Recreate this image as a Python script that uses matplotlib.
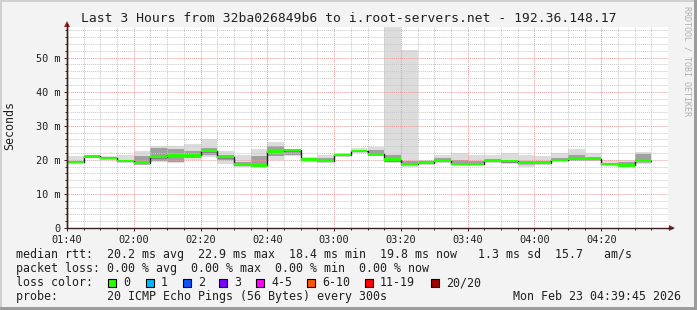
import numpy as np
import pandas as pd
import matplotlib
matplotlib.use("Agg")
import matplotlib.pyplot as plt
import matplotlib.dates as mdates
from matplotlib.patches import Rectangle, Polygon
from matplotlib.lines import Line2D

W, H = 697, 310
MONO = "DejaVu Sans Mono"

# one value per 5 minute step, 01:40 .. 04:35 (ms)
times = pd.date_range("2026-02-23 01:40", periods=35, freq="5min")
median = [19.3, 21.0, 20.6, 19.6, 19.0, 20.9, 21.3, 21.3, 22.6, 20.9,
          18.6, 18.4, 22.5, 22.9, 20.1, 19.6, 21.5, 22.6, 21.6, 20.1,
          18.7, 19.1, 19.8, 18.7, 18.7, 19.6, 19.6, 19.0, 19.0, 19.9,
          20.4, 20.3, 18.7, 18.4, 19.8]
ping_min = [19.1, 20.9, 20.4, 19.3, 18.6, 19.4, 19.0, 20.1, 20.7, 18.8,
            18.4, 18.3, 20.0, 21.1, 19.9, 19.4, 21.3, 22.4, 21.5, 19.0,
            18.0, 18.9, 19.6, 18.6, 18.6, 19.6, 18.9, 18.0, 18.9, 19.6,
            20.2, 20.1, 18.6, 18.2, 18.9]
ping_max = [21.0, 21.3, 21.0, 21.3, 22.7, 24.2, 24.0, 24.8, 26.0, 22.5,
            21.3, 23.3, 25.2, 23.1, 20.7, 21.3, 21.9, 23.4, 23.8, 65.0,
            52.3, 20.1, 21.5, 22.1, 21.3, 21.5, 21.9, 21.5, 21.1, 21.9,
            23.1, 22.1, 20.0, 20.1, 22.3]
# darker inner part of the smoke
core_lo = [19.2, 20.9, 20.5, 19.4, 19.0, 19.8, 19.5, 20.6, 21.5, 20.0,
           18.6, 18.6, 21.0, 21.5, 20.0, 19.8, 21.4, 22.6, 21.6, 19.3,
           18.6, 19.2, 19.8, 18.8, 18.8, 19.6, 19.2, 18.8, 19.0, 19.9,
           20.4, 20.3, 18.7, 18.4, 19.3]
core_hi = [19.8, 21.2, 20.9, 19.9, 21.0, 23.5, 23.2, 22.5, 23.5, 21.5,
           19.5, 21.0, 24.0, 22.8, 20.5, 20.5, 21.8, 23.0, 22.8, 21.5,
           19.6, 19.8, 20.5, 20.0, 19.8, 20.2, 20.0, 19.6, 19.6, 20.5,
           21.5, 20.8, 19.2, 19.4, 21.8]

loss_labels = ["0", "1", "2", "3", "4-5", "6-10", "11-19", "20/20"]
loss_colors = ["#26ff00", "#00b8ff", "#0059ff", "#7e00ff",
               "#ff00ff", "#ff5500", "#ff0000", "#a10000"]

title = "Last 3 Hours from 32ba026849b6 to i.root-servers.net - 192.36.148.17"
line_rtt = ("median rtt:  20.2 ms avg  22.9 ms max  18.4 ms min  "
            "19.8 ms now   1.3 ms sd  15.7   am/s")
line_loss = "packet loss: 0.00 % avg  0.00 % max  0.00 % min  0.00 % now"
line_probe = "probe:       20 ICMP Echo Pings (56 Bytes) every 300s"
stamp = "Mon Feb 23 04:39:45 2026"

fig = plt.figure(figsize=(W / 100, H / 100), dpi=100, facecolor="#f3f3f3")
# plot area in pixels: x 67..668, y 27..228
ax = fig.add_axes([67 / W, 1 - 228 / H, 601 / W, 201 / H])
ax.set_facecolor("white")

step = pd.Timedelta(minutes=5)
width = step / pd.Timedelta(days=1)
x = mdates.date2num(times)
med = np.array(median)

# smoke
ax.bar(x, np.array(ping_max) - np.array(ping_min), bottom=ping_min, width=width,
       align="edge", color="#dcdcdc", linewidth=0, zorder=1)
ax.bar(x, np.array(core_hi) - np.array(core_lo), bottom=core_lo, width=width,
       align="edge", color="#a0a0a0", linewidth=0, zorder=1.1)

# median step line (black) with loss-coloured bars
x_ext = np.append(x, x[-1] + width)
m_ext = np.append(med, med[-1])
ax.step(x_ext, m_ext, where="post", color="#202020", lw=1.0, zorder=3)
ax.bar(x, 0.7, bottom=med - 0.35, width=width, align="edge",
       color=loss_colors[0], linewidth=0, zorder=3.2)

t0 = pd.Timestamp("2026-02-23 01:40")
t1 = t0 + pd.Timedelta(hours=3)
ax.set_xlim(mdates.date2num(t0), mdates.date2num(t1))
ax.set_ylim(0, 59)

major_t = pd.date_range(t0, t1 - pd.Timedelta(minutes=1), freq="20min")
minor_t = pd.date_range(t0, t1 - pd.Timedelta(minutes=1), freq="5min")
ax.set_xticks(mdates.date2num(major_t))
ax.set_xticks(mdates.date2num(minor_t), minor=True)
ax.set_xticklabels([t.strftime("%H:%M") for t in major_t])
ax.set_yticks(np.arange(0, 51, 10))
ax.set_yticks(np.arange(0, 59, 2), minor=True)
ax.set_yticklabels(["0" if v == 0 else f"{v} m" for v in range(0, 51, 10)])

ax.set_axisbelow(False)
ax.grid(which="minor", color="#c8c8c8", linestyle=(0, (1, 1)), lw=0.7)
ax.grid(which="major", color="#e89a9a", linestyle=(0, (1, 1)), lw=0.7)

for s in ["top", "right"]:
    ax.spines[s].set_visible(False)
for s in ["left", "bottom"]:
    ax.spines[s].set_color("#3a2020")
    ax.spines[s].set_linewidth(1.0)
    ax.spines[s].set_zorder(4)

ax.tick_params(which="major", length=2.2, width=0.7, color="#3a2020",
               labelsize=7.4, pad=2.5)
ax.tick_params(which="minor", length=1.4, width=0.7, color="#3a2020")
for lab in ax.get_xticklabels() + ax.get_yticklabels():
    lab.set_family(MONO)
    lab.set_color("#202020")

# axis arrows
def px(xp, yp):
    return (xp / W, 1 - yp / H)

fig.add_artist(Line2D([67 / W, 67 / W], [1 - 227 / H, 1 - 24 / H],
                      color="#3a2020", lw=1.0))
fig.add_artist(Line2D([668 / W, 672 / W], [1 - 228 / H, 1 - 228 / H],
                      color="#3a2020", lw=1.0))
fig.add_artist(Polygon([px(64, 27), px(70, 27), px(67, 21)], closed=True,
                       transform=fig.transFigure, color="#a02020", lw=0))
fig.add_artist(Polygon([px(669, 225), px(669, 231), px(675, 228)], closed=True,
                       transform=fig.transFigure, color="#a02020", lw=0))

# texts
fig.text(348.5 / W, 1 - 19 / H, title, ha="center", va="center",
         family=MONO, fontsize=9.4, color="#202020")
fig.text(10 / W, 1 - 126 / H, "Seconds", rotation=90, ha="center", va="center",
         family=MONO, fontsize=8.4, color="#202020")
fig.text(687 / W, 1 - 61 / H, "RRDTOOL / TOBI OETIKER", rotation=270,
         ha="center", va="center", family=MONO, fontsize=6, color="#b0b0b0")

rows = [254.7, 268.7, 282.7, 296.7]
fig.text(16 / W, 1 - rows[0] / H, line_rtt, ha="left", va="center",
         family=MONO, fontsize=8.4, color="#202020")
fig.text(16 / W, 1 - rows[1] / H, line_loss, ha="left", va="center",
         family=MONO, fontsize=8.4, color="#202020")
fig.text(16 / W, 1 - rows[2] / H, "loss color:", ha="left", va="center",
         family=MONO, fontsize=8.4, color="#202020")
fig.text(16 / W, 1 - rows[3] / H, line_probe, ha="left", va="center",
         family=MONO, fontsize=8.4, color="#202020")
fig.text(681 / W, 1 - rows[3] / H, stamp, ha="right", va="center",
         family=MONO, fontsize=8.4, color="#202020")

box_x = [108, 146, 183, 219, 256, 307, 365, 431]
for bx, lab, col in zip(box_x, loss_labels, loss_colors):
    fig.add_artist(Rectangle(px(bx, rows[2] + 4), 8 / W, 8 / H,
                             transform=fig.transFigure, facecolor=col,
                             edgecolor="black", lw=0.8))
    fig.text((bx + 15) / W, 1 - rows[2] / H, lab, ha="left", va="center",
             family=MONO, fontsize=8.4, color="#202020")

# frame of the canvas
fig.add_artist(Rectangle((0, 0), 2 / W, 1, transform=fig.transFigure,
                         color="#d0d0d0", lw=0))
fig.add_artist(Rectangle((0, 1 - 2 / H), 1, 2 / H, transform=fig.transFigure,
                         color="#d0d0d0", lw=0))
fig.add_artist(Rectangle((1 - 3 / W, 0), 3 / W, 1, transform=fig.transFigure,
                         color="#9c9c9c", lw=0))
fig.add_artist(Rectangle((0, 0), 1, 3 / H, transform=fig.transFigure,
                         color="#9c9c9c", lw=0))

fig.savefig("out.png", dpi=100, facecolor=fig.get_facecolor())
